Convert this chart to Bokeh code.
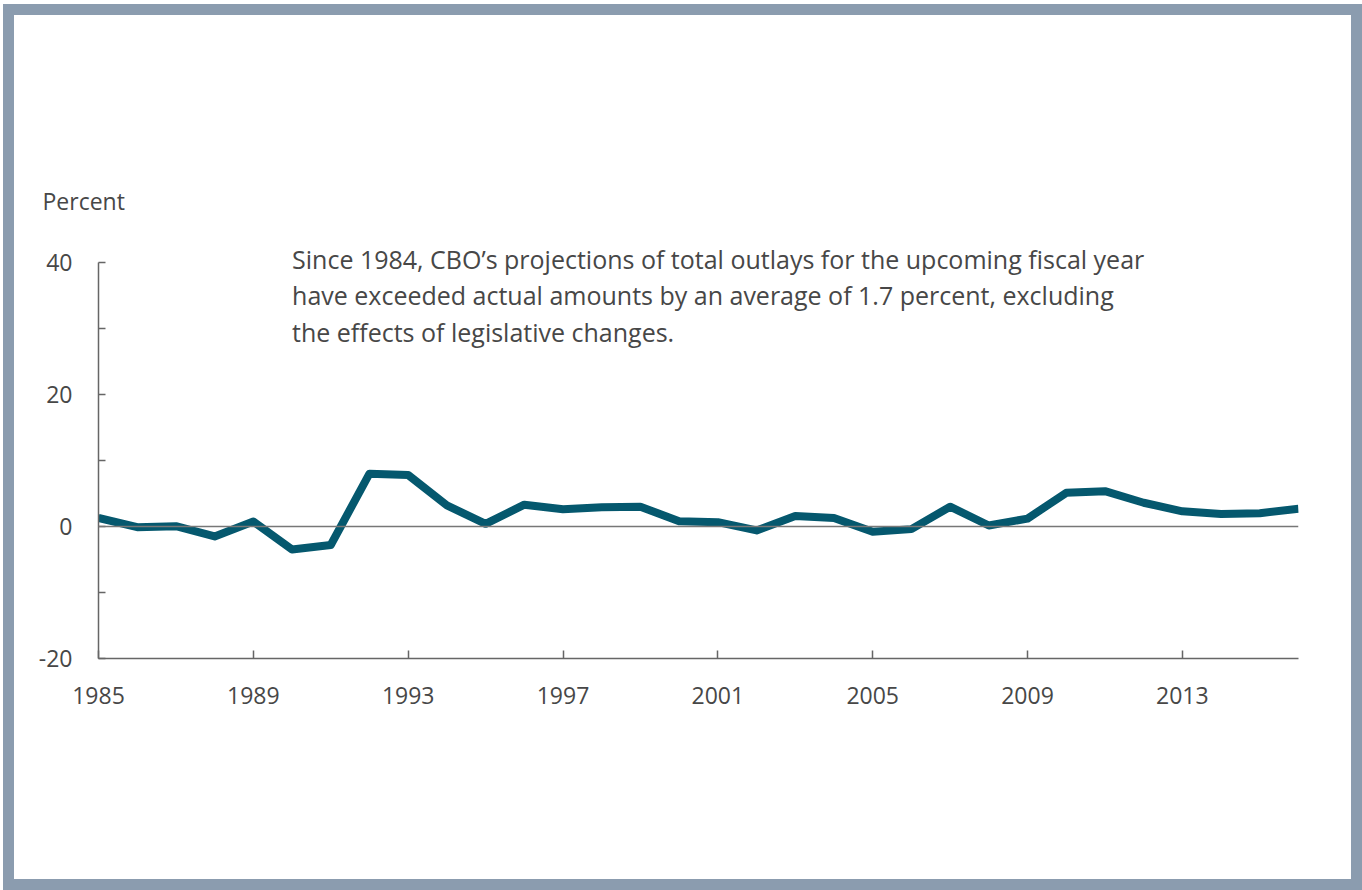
from bokeh.plotting import figure
from bokeh.models import FixedTicker, Span, Label, Title, PrintfTickFormatter
from bokeh.embed import file_html
from bokeh.resources import INLINE

# Projection error for total outlays by fiscal year (percent)
years = list(range(1985, 2017))
error_pct = [1.3, -0.1, 0.05, -1.5, 0.75, -3.5, -2.8, 8.0, 7.8, 3.2, 0.4,
             3.3, 2.6, 2.9, 3.0, 0.8, 0.65, -0.6, 1.6, 1.3, -0.8, -0.4,
             3.0, 0.15, 1.2, 5.1, 5.35, 3.6, 2.3, 1.9, 2.0, 2.7]

x_ticks = [1985, 1989, 1993, 1997, 2001, 2005, 2009, 2013]
y_ticks = [-20, 0, 20, 40]
y_minor = [-10, 10, 30]

note_lines = [
    "Since 1984, CBO\u2019s projections of total outlays for the upcoming fiscal year",
    "have exceeded actual amounts by an average of 1.7 percent, excluding",
    "the effects of legislative changes.",
]

FONT = "Open Sans"
TEXT = "#474747"
LINE = "#05586e"
FRAME = "#8b9caf"

# a little headroom above 40 keeps the note unclipped; the axis stops at 40
p = figure(width=1337, height=864, x_range=(1985, 2016), y_range=(-20, 42.42),
           output_backend="svg", toolbar_location=None,
           min_border_left=84, min_border_right=75,
           min_border_top=231, min_border_bottom=243)
p.styles = {"margin-left": "3px", "margin-top": "4px",
            "border": f"11px solid {FRAME}", "box-sizing": "content-box"}
p.outline_line_color = None
p.grid.grid_line_color = None
p.background_fill_color = "white"
p.border_fill_color = "white"

# unit label above the y axis
p.add_layout(Title(text="Percent", align="left", offset=-56, standoff=59,
                   text_font=FONT, text_font_size="23px",
                   text_font_style="normal", text_color=TEXT), "above")

# x axis
xa = p.xaxis[0]
xa.ticker = FixedTicker(ticks=x_ticks)
xa.axis_line_color = "#666666"
xa.axis_line_width = 1.5
xa.major_tick_line_color = "#666666"
xa.major_tick_line_width = 1.5
xa.major_tick_in = 8
xa.major_tick_out = 0
xa.minor_tick_line_color = None
xa.major_label_standoff = 28
xa.major_label_text_font = FONT
xa.major_label_text_font_size = "23px"
xa.major_label_text_color = TEXT

# y axis
ya = p.yaxis[0]
ya.bounds = (-20, 40)
ya.ticker = FixedTicker(ticks=y_ticks, minor_ticks=y_minor)
ya.formatter = PrintfTickFormatter(format="%d")
ya.axis_line_color = "#666666"
ya.axis_line_width = 1.5
ya.major_tick_line_color = "#666666"
ya.major_tick_line_width = 1.5
ya.major_tick_in = 7
ya.major_tick_out = 0
ya.minor_tick_line_color = "#666666"
ya.minor_tick_line_width = 1.5
ya.minor_tick_in = 7
ya.minor_tick_out = 0
ya.major_label_standoff = 26
ya.major_label_text_font = FONT
ya.major_label_text_font_size = "23px"
ya.major_label_text_color = TEXT

# zero reference line
p.add_layout(Span(location=0, dimension="width", line_color="#777777",
                  line_width=1.5))

p.line(years, error_pct, line_color=LINE, line_width=8, line_join="round")

# explanatory note
for i, line in enumerate(note_lines):
    p.add_layout(Label(x=1990.0, y=40.6 - i * 5.6, text=line, text_font=FONT,
                       text_font_size="25px", text_color=TEXT,
                       text_baseline="alphabetic"))

open("out.html", "w").write(file_html(p, INLINE))
